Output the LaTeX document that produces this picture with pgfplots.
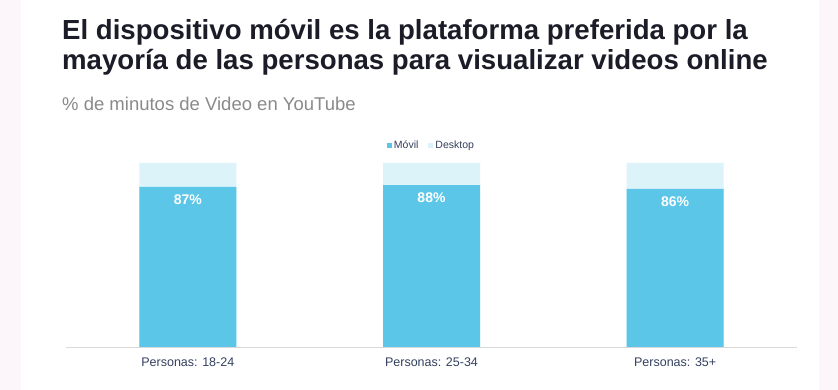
\documentclass[border=0pt]{standalone}
\usepackage{fontspec}
\setmainfont{Liberation Sans}
\usepackage{pgfplots}
\pgfplotsset{compat=1.18}
\definecolor{movil}{HTML}{5BC6E8}
\definecolor{desk}{HTML}{DDF3FA}
\definecolor{pinkbg}{HTML}{FCF5F9}
\definecolor{titlec}{HTML}{1C1C28}
\definecolor{subc}{HTML}{8A8A8A}
\definecolor{tickc}{HTML}{34405F}
\begin{document}
\begin{tikzpicture}[x=1pt,y=1pt]
\fill[pinkbg] (0,0) rectangle (838,390);
\fill[white] (21,0) rectangle (819,390);
\path[use as bounding box] (0,0) rectangle (838,390);
\node[anchor=base west,font=\bfseries\fontsize{27.6}{30}\selectfont,text=titlec,inner sep=0] at (62,350) {El dispositivo móvil es la plataforma preferida por la};
\node[anchor=base west,font=\bfseries\fontsize{27.6}{30}\selectfont,text=titlec,inner sep=0] at (62,320) {mayoría de las personas para visualizar videos online};
\node[anchor=base west,font=\fontsize{18.5}{20}\selectfont,text=subc,inner sep=0] at (62,279) {\% de minutos de Video en YouTube};
\begin{axis}[
  at={(66pt,43pt)}, anchor=south west,
  scale only axis, width=731pt, height=184pt,
  ybar, bar shift=0pt, bar width=97pt,
  xmin=-0.5, xmax=2.5, ymin=0, ymax=100,
  axis y line=none,
  axis x line*=bottom,
  x axis line style={draw=black!15, line width=0.8pt, -},
  xtick=data,
  xticklabels={Personas: 18-24, Personas: 25-34, Personas: 35+},
  xtick style={draw=none},
  x tick label style={font=\fontsize{12.5}{14}\selectfont, text=tickc, yshift=-3pt},
  legend style={at={(0.5,1.0)}, anchor=south, yshift=9pt, draw=none, fill=none,
    legend columns=2, font=\fontsize{10.5}{12}\selectfont, text=tickc,
    /tikz/every even column/.append style={column sep=8pt}},
  reverse legend,
  legend image code/.code={\fill[#1] (0pt,-2.5pt) rectangle (5pt,2.5pt);},
  clip=false,
]
% Desktop share on top of Móvil: total column = Móvil + Desktop = 100
\addplot[fill=desk, draw=none] coordinates {(0,100) (1,100) (2,100)};
\addplot[fill=movil, draw=none,
  point meta=explicit symbolic,
  nodes near coords={\textbf{\pgfplotspointmeta\%}},
  every node near coord/.style={anchor=north, text=white, font=\fontsize{14}{16}\selectfont, yshift=-4pt}]
  coordinates {(0,87) [87] (1,88) [88] (2,86) [86]};
\legend{Desktop, Móvil}
\end{axis}
\end{tikzpicture}
\end{document}
